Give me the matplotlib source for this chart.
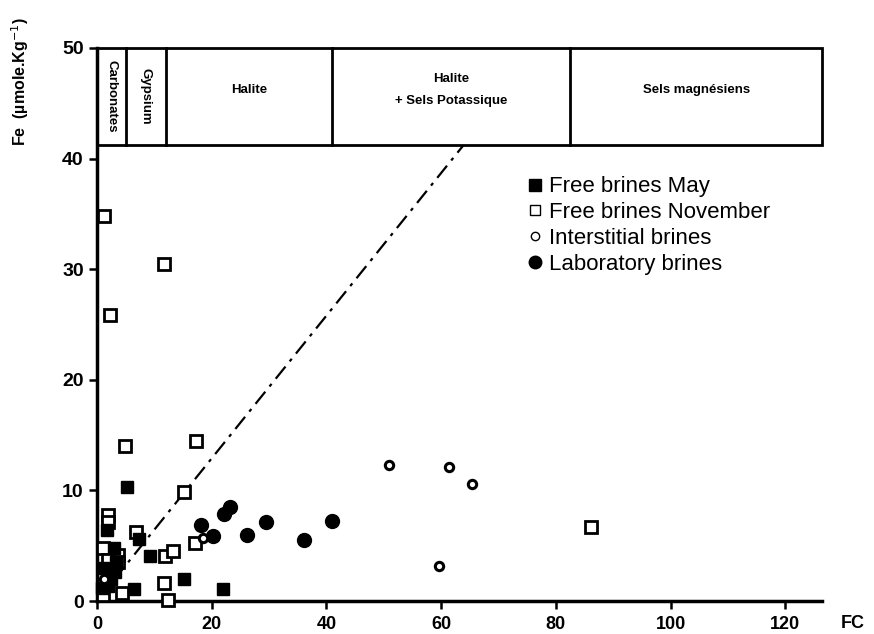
import matplotlib
matplotlib.use("Agg")
import matplotlib.pyplot as plt
import matplotlib.lines as mlines
from matplotlib.patches import Rectangle

plt.rcParams['font.family'] = ['Liberation Sans', 'DejaVu Sans']

# Free brines May (filled squares)
may_fc = [5.2, 1.7, 7.3, 2.9, 3.3, 3.2, 2.4, 1.0, 0.8, 1.9, 6.4, 9.2, 15.2, 22.0]
may_fe = [10.3, 6.4, 5.6, 4.8, 3.5, 2.6, 2.0, 3.0, 1.2, 1.4, 1.1, 4.1, 2.0, 1.1]

# Free brines November (open squares)
nov_fc = [1.3, 11.7, 2.3, 4.8, 17.2, 15.2, 2.0, 2.0, 6.8, 1.0, 3.7, 1.9, 3.7,
          1.0, 4.4, 11.9, 13.3, 17.1, 11.7, 12.4, 86.1]
nov_fe = [34.8, 30.5, 25.9, 14.0, 14.5, 9.9, 7.8, 7.1, 6.2, 4.8, 4.2, 3.7, 3.5,
          0.5, 0.7, 4.1, 4.5, 5.2, 1.6, 0.1, 6.7]

# Interstitial brines (small open circles)
int_fc = [50.9, 61.4, 65.4, 59.6, 18.4, 1.2]
int_fe = [12.3, 12.1, 10.6, 3.2, 5.7, 2.0]

# Laboratory brines (filled circles)
lab_fc = [23.2, 22.2, 18.1, 20.3, 26.2, 29.5, 36.1, 40.9]
lab_fe = [8.5, 7.9, 6.9, 5.9, 6.0, 7.1, 5.5, 7.2]

# evaporite sequence bands along FC
band_edges = [0, 5, 12, 41, 82.5, 126.4]
band_names = ['Carbonates', 'Gypsium', 'Halite', 'Halite\n\n+ Sels Potassique', 'Sels magnésiens']
band_bottom = 41.2

legend_labels = ['Free brines May', 'Free brines November', 'Interstitial brines',
                 'Laboratory brines']

# dilution line slope
line_slope = 0.645

fig = plt.figure(figsize=(8.74, 6.34), dpi=100)
ax = fig.add_axes([97 / 874, 33 / 634, 725 / 874, 553 / 634])
ax.set_xlim(0, 126.4)
ax.set_ylim(0, 50)

# dash-dot reference line
x_end = band_bottom / line_slope
ax.plot([3.0, x_end], [3.0 * line_slope, band_bottom], color='black', lw=1.6,
        dashes=(7, 3, 1.5, 3), zorder=2)

ax.plot(nov_fc, nov_fe, 's', ms=8.5, mfc='white', mec='black', mew=2,
        clip_on=False, zorder=3)
ax.plot(may_fc, may_fe, 's', ms=9, mfc='black', mec='black',
        clip_on=False, zorder=4)
ax.plot(lab_fc, lab_fe, 'o', ms=10, mfc='black', mec='black',
        clip_on=False, zorder=4)
ax.plot(int_fc, int_fe, 'o', ms=6, mfc='white', mec='black', mew=2.2,
        clip_on=False, zorder=5)

# band boxes
ax.add_patch(Rectangle((band_edges[0], band_bottom), band_edges[-1] - band_edges[0],
                       50 - band_bottom, fill=False, lw=2, ec='black', clip_on=False, zorder=6))
for e in band_edges[1:-1]:
    ax.plot([e, e], [band_bottom, 50], color='black', lw=2, clip_on=False, zorder=6)
mid_y = (band_bottom + 50) / 2
for i, name in enumerate(band_names):
    xc = (band_edges[i] + band_edges[i + 1]) / 2
    if i < 2:
        ax.text(xc, mid_y, name, rotation=-90, ha='center', va='center',
                fontsize=9.5, fontweight='bold')
    else:
        ax.text(xc, mid_y + 0.6, name, ha='center', va='center', fontsize=9.5,
                fontweight='bold', linespacing=0.9)

# legend with its own small markers
lh = [
    mlines.Line2D([], [], ls='', marker='s', ms=8, mfc='black', mec='black'),
    mlines.Line2D([], [], ls='', marker='s', ms=7, mfc='white', mec='black', mew=1),
    mlines.Line2D([], [], ls='', marker='o', ms=6, mfc='white', mec='black', mew=1),
    mlines.Line2D([], [], ls='', marker='o', ms=9, mfc='black', mec='black'),
]
ax.legend(lh, legend_labels, loc='upper left', bbox_to_anchor=(0.595, 0.768),
          frameon=False, fontsize=16, handlelength=0.6, handletextpad=0.35,
          labelspacing=0.22, borderaxespad=0, borderpad=0)

for s in ['top', 'right']:
    ax.spines[s].set_visible(False)
for s in ['left', 'bottom']:
    ax.spines[s].set_linewidth(2.5)

ax.set_xticks([0, 20, 40, 60, 80, 100, 120])
ax.set_yticks([0, 10, 20, 30, 40, 50])
ax.tick_params(width=1.8, length=6, direction='out')
ax.tick_params(axis='x', pad=5)
for t in ax.get_xticklabels():
    t.set_fontweight('bold')
    t.set_fontsize(13)
    t.set_family(['Liberation Sans Narrow', 'Liberation Sans', 'DejaVu Sans'])
for t in ax.get_yticklabels():
    t.set_fontweight('bold')
    t.set_fontsize(14)

fig.text(853 / 874, 1 - 624 / 634, 'FC', ha='center', va='center', fontsize=13,
         fontweight='bold')
fig.text(20 / 874, 1 - 82 / 634, 'Fe  (µmole.Kg$^{-1}$)', rotation=90, ha='center',
         va='center', fontsize=11.5, fontweight='bold')

fig.savefig('out.png', dpi=100)
